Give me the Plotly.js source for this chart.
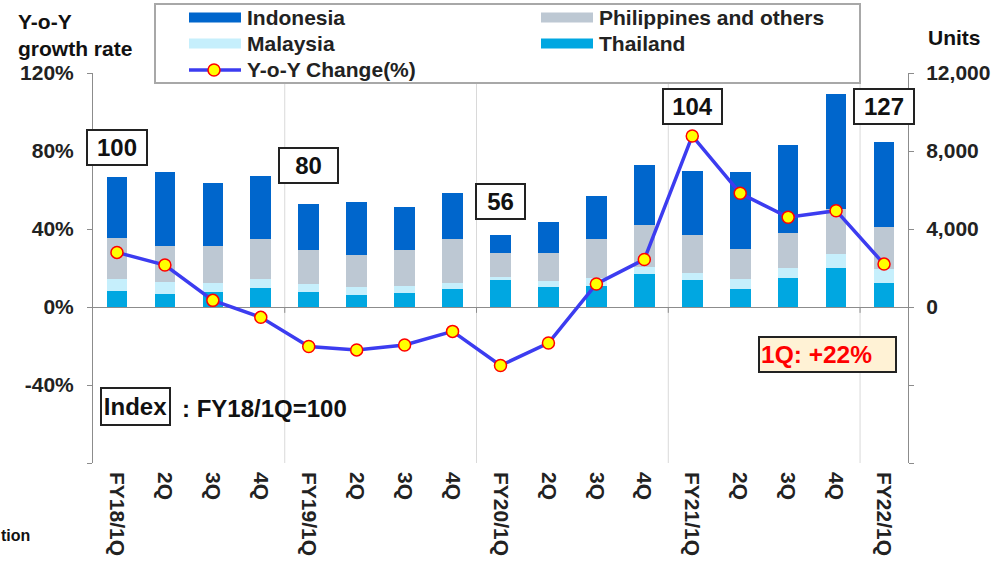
<!DOCTYPE html>
<html>
<head>
<meta charset="utf-8">
<script src="https://cdn.plot.ly/plotly-3.0.1.min.js"></script>
<style>html,body{margin:0;padding:0;background:#fff;}#chart{width:994px;height:565px;}</style>
</head>
<body>
<div id="chart"></div>
<script>
// ---------- data ----------
const tickLabels = ['FY18/1Q','2Q','3Q','4Q','FY19/1Q','2Q','3Q','4Q','FY20/1Q','2Q','3Q','4Q','FY21/1Q','2Q','3Q','4Q','FY22/1Q'];
const thailand    = [840, 650, 790, 990, 770, 620, 730, 940, 1390, 1030, 1090, 1680, 1390, 920, 1470, 2020, 1250];
const malaysia    = [590, 630, 430, 450, 430, 430, 360, 310, 150, 320, 400, 370, 370, 510, 530, 720, 700];
const philippines = [2130, 1830, 1910, 2040, 1710, 1640, 1850, 2240, 1230, 1420, 2000, 2170, 1930, 1570, 1810, 2280, 2150];
const indonesia   = [3110, 3810, 3250, 3230, 2370, 2690, 2170, 2370, 920, 1610, 2220, 3060, 3270, 3930, 4510, 5900, 4340];
const yoyChange   = [28, 21.5, 3.4, -5.3, -20.3, -22, -19.5, -12.5, -30, -18.5, 11.8, 24.4, 87.7, 58.3, 46, 49.4, 22];
const indexQuarters = [0, 4, 8, 12, 16];
const indexValues   = ['100', '80', '56', '104', '127'];
const seriesNames = ['Indonesia', 'Philippines and others', 'Malaysia', 'Thailand', 'Y-o-Y Change(%)'];
const unitTickVals = [-8000, -4000, 0, 4000, 8000, 12000];
const unitTickText = ['', '', '0', '4,000', '8,000', '12,000'];
const pctTickVals  = [-80, -40, 0, 40, 80, 120];
const pctTickText  = ['', '-40%', '0%', '40%', '80%', '120%'];
const fyBoundaries = [3.5, 7.5, 11.5, 15.5];
const latestNote = '1Q: +22%';
const indexNote = 'Index';
const indexBase = ': FY18/1Q=100';

// ---------- styling ----------
const FONT = '"Liberation Sans", Arial, Helvetica, sans-serif';
const INK = '#222222';
const AXIS = '#8c8c8c';
const C = {indonesia:'#0066cc', phil:'#bdc8d3', malaysia:'#c6effc', thailand:'#00a7e1', line:'#3c3cf0'};
const L = 93, R = 908, T = 73, B = 463;
const fx = p => (p - L) / (R - L);
const fy = p => (B - p) / (B - T);
const qx = tickLabels.map((_, i) => i);

function barTrace(name, vals, color) {
  return {type:'bar', name:name, x:qx, y:vals, yaxis:'y', width:0.43,
          marker:{color:color, line:{width:0}}, showlegend:false, hoverinfo:'skip'};
}
const traces = [
  barTrace(seriesNames[3], thailand, C.thailand),
  barTrace(seriesNames[2], malaysia, C.malaysia),
  barTrace(seriesNames[1], philippines, C.phil),
  barTrace(seriesNames[0], indonesia, C.indonesia),
  {type:'scatter', mode:'lines+markers', name:seriesNames[4], x:qx, y:yoyChange, yaxis:'y2',
   line:{color:C.line, width:3.5},
   marker:{size:12, color:'#ffff00', line:{color:'#ff0000', width:1.5}},
   showlegend:false, hoverinfo:'skip', cliponaxis:false}
];

const tf = (size, color) => ({family:FONT, size:size, color:color || INK, weight:'bold'});

const shapes = [];
fyBoundaries.forEach(b => {
  shapes.push({type:'line', xref:'x', yref:'paper', x0:b, x1:b, y0:0, y1:1, layer:'below',
               line:{color:'#d9d9d9', width:1}});
  shapes.push({type:'line', xref:'x', yref:'y', x0:b, x1:b, y0:0, y1:-300, layer:'above',
               line:{color:AXIS, width:1}});
});
// legend box
shapes.push({type:'rect', xref:'paper', yref:'paper', x0:fx(155), x1:fx(860), y0:fy(83), y1:fy(4),
             fillcolor:'#ffffff', line:{color:'#a8a8a8', width:2}, layer:'above'});
const swatches = [
  {c:C.indonesia, x:189, y:17.5}, {c:C.phil, x:541, y:17.5},
  {c:C.malaysia, x:189, y:43.5}, {c:C.thailand, x:541, y:43.5}
];
swatches.forEach(s => shapes.push({type:'rect', xref:'paper', yref:'paper',
  x0:fx(s.x), x1:fx(s.x + 52), y0:fy(s.y + 5), y1:fy(s.y - 5), fillcolor:s.c, line:{width:0}, layer:'above'}));
shapes.push({type:'line', xref:'paper', yref:'paper', x0:fx(189), x1:fx(241), y0:fy(70), y1:fy(70),
             line:{color:C.line, width:3.5}, layer:'above'});
shapes.push({type:'circle', xref:'paper', yref:'paper', x0:fx(208), x1:fx(220), y0:fy(76), y1:fy(64),
             fillcolor:'#ffff00', line:{color:'#ff0000', width:1.5}, layer:'above'});

const annotations = [];
const legendText = [
  {t:seriesNames[0], x:245, y:17}, {t:seriesNames[1], x:597, y:17},
  {t:seriesNames[2], x:245, y:43}, {t:seriesNames[3], x:597, y:43},
  {t:seriesNames[4], x:245, y:69}
];
legendText.forEach(l => annotations.push({xref:'paper', yref:'paper', x:fx(l.x), y:fy(l.y),
  xanchor:'left', yanchor:'middle', text:l.t, showarrow:false, font:tf(21)}));

const boxY = [8180, 7280, 5410, 10280, 10280];
const boxW = [56, 55, 45, 55, 56];
indexQuarters.forEach((q, i) => annotations.push({xref:'x', yref:'y', x:q, y:boxY[i],
  xanchor:'center', yanchor:'middle',
  text:indexValues[i], showarrow:false, font:tf(24, '#111'), bgcolor:'#ffffff',
  bordercolor:'#222', borderwidth:2, borderpad:1, width:boxW[i], height:31}));

annotations.push({xref:'x', yref:'y', x:14.82, y:-2440, xanchor:'center', yanchor:'middle',
  text:latestNote, showarrow:false,
  font:tf(24.5, '#ff0000'), bgcolor:'#fff2d5', bordercolor:'#222', borderwidth:2, borderpad:1,
  width:133, height:31, align:'left'});
annotations.push({xref:'paper', yref:'paper', x:fx(135.5), y:fy(406.5), xanchor:'center', yanchor:'middle',
  text:indexNote, showarrow:false,
  font:tf(24, '#111'), bgcolor:'#ffffff', bordercolor:'#222', borderwidth:2, borderpad:1, width:65, height:33});
annotations.push({xref:'paper', yref:'paper', x:fx(180), y:fy(408), xanchor:'left', yanchor:'middle',
  text:indexBase, showarrow:false, font:tf(24, '#111')});
annotations.push({xref:'paper', yref:'paper', x:fx(16), y:fy(35), xanchor:'left', yanchor:'middle', align:'left',
  text:'Y-o-Y<br>growth rate', showarrow:false, font:tf(21, '#111')});
annotations.push({xref:'paper', yref:'paper', x:fx(926), y:fy(37), xanchor:'left', yanchor:'middle',
  text:'Units', showarrow:false, font:tf(21, '#111')});
annotations.push({xref:'paper', yref:'paper', x:fx(-1), y:fy(535), xanchor:'left', yanchor:'middle',
  text:'tion', showarrow:false, font:tf(16, '#111')});

const layout = {
  width:994, height:565,
  margin:{l:L, r:994 - R, t:T, b:565 - B, pad:0},
  paper_bgcolor:'#ffffff', plot_bgcolor:'rgba(0,0,0,0)',
  barmode:'stack', showlegend:false, hovermode:false,
  font:{family:FONT, color:INK},
  xaxis:{range:[-0.5, 16.5], tickmode:'array', tickvals:qx, ticktext:tickLabels, tickangle:90,
         showline:false, showgrid:false, zeroline:false, ticks:'', tickfont:tf(21), ticklabelstandoff:8,
         fixedrange:true},
  yaxis:{side:'right', range:[-8000, 12000], tickmode:'array', tickvals:unitTickVals, ticktext:unitTickText,
         ticks:'outside', ticklen:5, tickcolor:AXIS, showline:true, linecolor:AXIS, linewidth:1,
         showgrid:false, zeroline:true, zerolinecolor:AXIS, zerolinewidth:1, tickfont:tf(21),
         ticklabelstandoff:8, fixedrange:true},
  yaxis2:{overlaying:'y', side:'left', range:[-80, 120], tickmode:'array', tickvals:pctTickVals, ticktext:pctTickText,
          ticks:'outside', ticklen:5, tickcolor:AXIS, showline:true, linecolor:AXIS, linewidth:1,
          showgrid:false, zeroline:false, tickfont:tf(21), ticklabelstandoff:9, fixedrange:true},
  shapes:shapes,
  annotations:annotations
};

Plotly.newPlot('chart', traces, layout, {displayModeBar:false, staticPlot:true});
</script>
</body>
</html>
